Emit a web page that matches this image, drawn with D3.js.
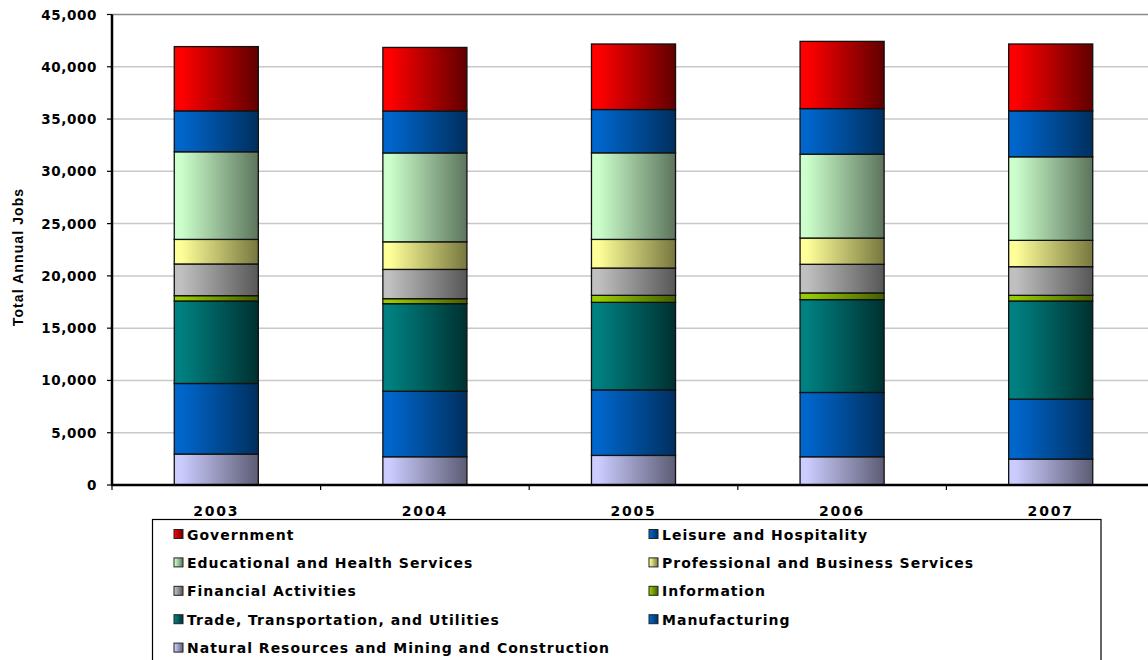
<!DOCTYPE html>
<html>
<head>
<meta charset="utf-8">
<script src="https://cdn.jsdelivr.net/npm/d3@7"></script>
<style>
  html, body { margin: 0; padding: 0; background: #fff; }
  svg { display: block; }
  .tick-lbl { font-family: "DejaVu Sans", Verdana, sans-serif; font-weight: bold; font-size: 13.5px; letter-spacing: 0.6px; fill: #000; }
  .cat-lbl  { font-family: "DejaVu Sans", Verdana, sans-serif; font-weight: bold; font-size: 14px; letter-spacing: 1.8px; fill: #000; }
  .leg-lbl  { font-family: "DejaVu Sans", Verdana, sans-serif; font-weight: bold; font-size: 14px; letter-spacing: 1px; fill: #000; }
</style>
</head>
<body>
<svg id="chart" width="1148" height="660"></svg>
<script>
// ── Data ──────────────────────────────────────────────────────────────────────
const years = ['2003', '2004', '2005', '2006', '2007'];

// stacked bottom → top
const seriesNames = [
  'Natural Resources and Mining and Construction',
  'Manufacturing',
  'Trade, Transportation, and Utilities',
  'Information',
  'Financial Activities',
  'Professional and Business Services',
  'Educational and Health Services',
  'Leisure and Hospitality',
  'Government',
];

const naturalRes   = [2960, 2700, 2830, 2700, 2480];
const manufacturing= [6750, 6270, 6270, 6150, 5730];
const tradeTransp  = [7890, 8370, 8370, 8880, 9390];
const information  = [510, 480, 670, 640, 540];
const financial    = [3030, 2800, 2610, 2740, 2740];
const professional = [2350, 2640, 2740, 2510, 2520];
const eduHealth    = [8380, 8500, 8280, 8020, 7990];
const leisure      = [3910, 4010, 4140, 4360, 4390];
const government   = [6150, 6080, 6270, 6430, 6400];

const seriesValues = [naturalRes, manufacturing, tradeTransp, information,
  financial, professional, eduHealth, leisure, government];

const yTicks = [0, 5000, 10000, 15000, 20000, 25000, 30000, 35000, 40000, 45000];

// light → dark gradient ends per series
const seriesColors = [
  ['#CCCCFF', '#5c5c74'],
  ['#0066CC', '#002f5e'],
  ['#008080', '#003030'],
  ['#99CC00', '#456000'],
  ['#C0C0C0', '#575757'],
  ['#FFFF99', '#77773f'],
  ['#CCFFCC', '#5c745c'],
  ['#0066CC', '#002f5e'],
  ['#FF0000', '#600000'],
];

// legend order (row-major, two columns)
const legendOrder = [8, 7, 6, 5, 4, 3, 2, 1, 0];

// ── Layout ────────────────────────────────────────────────────────────────────
const svg = d3.select('#chart');
const plot = { left: 112, right: 1155, top: 14.5, bottom: 485 };

const x = d3.scaleBand()
  .domain(years)
  .range([plot.left, plot.right])
  .paddingInner(0.597)
  .paddingOuter(0.2985);

const y = d3.scaleLinear().domain([0, 45000]).range([plot.bottom, plot.top]);

// gradients
const defs = svg.append('defs');
seriesColors.forEach(([c0, c1], i) => {
  const g = defs.append('linearGradient').attr('id', `grad${i}`)
    .attr('x1', '0%').attr('x2', '100%').attr('y1', '0%').attr('y2', '0%');
  g.append('stop').attr('offset', '0%').attr('stop-color', c0);
  g.append('stop').attr('offset', '8%').attr('stop-color', c0);
  g.append('stop').attr('offset', '100%').attr('stop-color', c1);
});

// gridlines
svg.append('g').selectAll('line.grid')
  .data(yTicks.filter(t => t > 0))
  .enter().append('line')
  .attr('x1', plot.left).attr('x2', 1148)
  .attr('y1', d => y(d)).attr('y2', d => y(d))
  .attr('stroke', d => d === 45000 ? '#8a8a8a' : '#c8c8c8')
  .attr('stroke-width', 1.5);

// stacked bars
const rows = years.map((yr, j) => {
  const r = { year: yr };
  seriesNames.forEach((n, i) => { r[n] = seriesValues[i][j]; });
  return r;
});
const stacked = d3.stack().keys(seriesNames)(rows);

stacked.forEach((layer, i) => {
  svg.append('g').selectAll('rect')
    .data(layer)
    .enter().append('rect')
    .attr('x', d => x(d.data.year))
    .attr('width', x.bandwidth())
    .attr('y', d => y(d[1]))
    .attr('height', d => y(d[0]) - y(d[1]))
    .attr('fill', `url(#grad${i})`)
    .attr('stroke', '#111')
    .attr('stroke-width', 1.3);
});

// y axis
const yAxis = svg.append('g');
yAxis.append('line')
  .attr('x1', plot.left).attr('x2', plot.left)
  .attr('y1', plot.top).attr('y2', plot.bottom)
  .attr('stroke', '#000').attr('stroke-width', 2.5);
yAxis.selectAll('line.tk')
  .data(yTicks).enter().append('line')
  .attr('x1', plot.left - 5).attr('x2', plot.left)
  .attr('y1', d => y(d)).attr('y2', d => y(d))
  .attr('stroke', '#000').attr('stroke-width', 1.2);
yAxis.selectAll('text')
  .data(yTicks).enter().append('text')
  .attr('class', 'tick-lbl')
  .attr('x', 97).attr('y', d => y(d) + 5)
  .attr('text-anchor', 'end')
  .text(d => d3.format(',')(d));

// y title
svg.append('text')
  .attr('transform', `translate(23,257) rotate(-90)`)
  .attr('text-anchor', 'middle')
  .style('font-family', '"Liberation Sans", Arial, sans-serif')
  .style('font-weight', 'bold')
  .style('font-size', '14px')
  .style('letter-spacing', '1.1px')
  .text('Total Annual Jobs');

// x axis
const xAxis = svg.append('g');
xAxis.append('line')
  .attr('x1', plot.left - 1).attr('x2', 1148)
  .attr('y1', plot.bottom).attr('y2', plot.bottom)
  .attr('stroke', '#000').attr('stroke-width', 2.5);
const step = x.step();
xAxis.selectAll('line.tk')
  .data(d3.range(years.length + 1)).enter().append('line')
  .attr('x1', i => plot.left + i * step).attr('x2', i => plot.left + i * step)
  .attr('y1', plot.bottom).attr('y2', plot.bottom + 5)
  .attr('stroke', '#000').attr('stroke-width', 1.2);
xAxis.selectAll('text')
  .data(years).enter().append('text')
  .attr('class', 'cat-lbl')
  .attr('x', d => x(d) + x.bandwidth() / 2)
  .attr('y', 516)
  .attr('text-anchor', 'middle')
  .text(d => d);

// legend
const leg = svg.append('g');
leg.append('rect')
  .attr('x', 152.5).attr('y', 519.5)
  .attr('width', 948.5).attr('height', 160)
  .attr('fill', '#fff').attr('stroke', '#000').attr('stroke-width', 1.2);

const colX = [174, 649];
const rowY0 = 534.5, rowH = 28.4;
legendOrder.forEach((si, k) => {
  const col = k % 2, row = Math.floor(k / 2);
  const lx = colX[col], ly = rowY0 + row * rowH;
  leg.append('rect')
    .attr('x', lx).attr('y', ly - 5)
    .attr('width', 9).attr('height', 9)
    .attr('fill', `url(#grad${si})`)
    .attr('stroke', '#222').attr('stroke-width', 1);
  leg.append('text')
    .attr('class', 'leg-lbl')
    .attr('x', lx + 13).attr('y', ly + 5)
    .text(seriesNames[si]);
});
</script>
</body>
</html>
